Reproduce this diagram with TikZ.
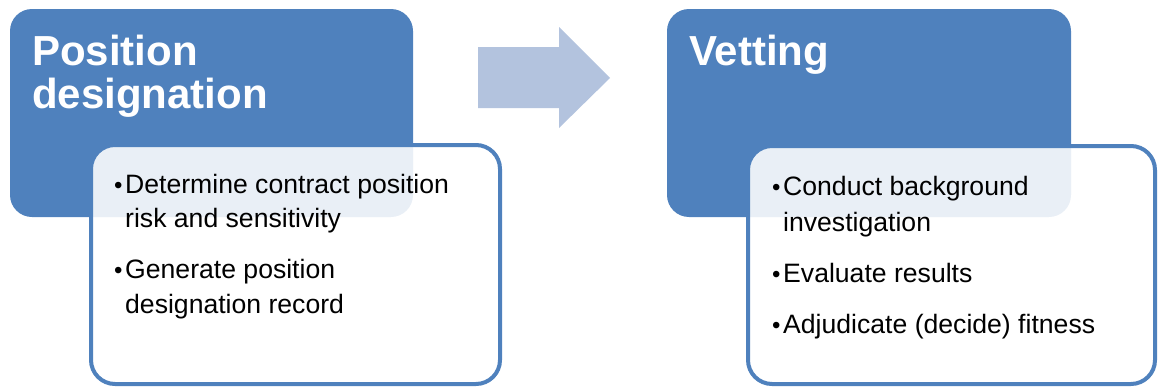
\documentclass[tikz,border=0pt]{standalone}
\usepackage{fontspec}
\setmainfont{Liberation Sans}
\definecolor{boxblue}{HTML}{4F81BD}
\definecolor{arrowblue}{HTML}{B3C3DE}
\begin{document}
\begin{tikzpicture}[x=1pt,y=-1pt,
  headbox/.style={fill=boxblue, draw=none, rounded corners=22pt},
  detailbox/.style={fill=white, fill opacity=0.88, draw=boxblue, line width=4pt, rounded corners=24pt},
  titletext/.style={anchor=base west, inner sep=0pt, text=white, font=\fontsize{42}{43}\bfseries\selectfont},
  itemtext/.style={anchor=base west, inner sep=0pt, text=black, font=\fontsize{26.6}{34}\selectfont},
  bullet/.style={anchor=base west, inner sep=0pt, text=black, font=\fontsize{24}{34}\selectfont}
]
\useasboundingbox (0,0) rectangle (1159,388);
% left group
\path[headbox] (10,9) rectangle (413,217);
\node[titletext] (t1a) at (32,65) {Position};
\node[titletext] (t1b) at (32,108) {designation};
\path[detailbox] (91,145) rectangle (500,384);
\node[bullet] (b1) at (114,193) {•};
\node[itemtext] (l1a) at (125,193) {Determine contract position};
\node[itemtext] (l1b) at (125,227) {risk and sensitivity};
\node[bullet] (b2) at (114,278) {•};
\node[itemtext] (l2a) at (125,278) {Generate position};
\node[itemtext] (l2b) at (125,313) {designation record};
% arrow
\fill[arrowblue] (478,47) -- (559,47) -- (559,27) -- (610,78) -- (559,128) -- (559,108) -- (478,108) -- cycle;
% right group
\path[headbox] (667,9) rectangle (1071,217);
\node[titletext] (t2) at (689,65) {Vetting};
\path[detailbox] (748,146) rectangle (1155,384);
\node[bullet] (b3) at (772,195) {•};
\node[itemtext] (r1a) at (783,195) {Conduct background};
\node[itemtext] (r1b) at (783,231) {investigation};
\node[bullet] (b4) at (772,282) {•};
\node[itemtext] (r2) at (783,282) {Evaluate results};
\node[bullet] (b5) at (772,333) {•};
\node[itemtext] (r3) at (783,333) {Adjudicate (decide) fitness};
\end{tikzpicture}
\end{document}
